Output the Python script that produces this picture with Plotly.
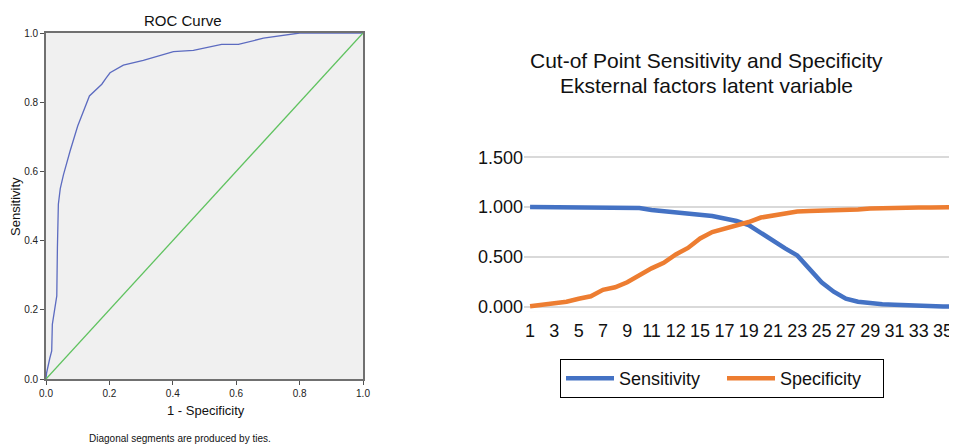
import plotly.graph_objects as go

# ---------------- data ----------------
# ROC curve (left panel)
roc_fpr = [0, 0.002, 0.012, 0.018, 0.02, 0.034, 0.036, 0.037, 0.039, 0.045, 0.055,
           0.076, 0.1, 0.137, 0.176, 0.19, 0.202, 0.244, 0.307, 0.402, 0.465,
           0.554, 0.607, 0.686, 0.77, 0.8, 1.0]
roc_tpr = [0, 0.018, 0.06, 0.081, 0.158, 0.24, 0.38, 0.477, 0.505, 0.55, 0.59,
           0.659, 0.731, 0.818, 0.852, 0.87, 0.885, 0.907, 0.921, 0.946, 0.95,
           0.967, 0.967, 0.985, 0.996, 1.0, 1.0]
ref_x = [0, 1]
ref_y = [0, 1]
roc_ticks = [0.0, 0.2, 0.4, 0.6, 0.8, 1.0]

# Cut-off points (right panel)
cut_points = ["1", "2", "3", "4", "5", "6", "7", "8", "9", "10", "11", "11.5",
              "12", "13", "15", "16", "17", "18", "19", "20", "21", "22", "23",
              "24", "25", "26", "27", "28", "29", "30", "31", "32", "33", "34",
              "35", "36"]
sensitivity = [1.0, 1.0, 1.0, 1.0, 1.0, 1.0, 1.0, 1.0, 1.0, 0.99, 0.97, 0.96,
               0.95, 0.935, 0.92, 0.91, 0.885, 0.86, 0.82, 0.74, 0.67, 0.586,
               0.515, 0.385, 0.245, 0.151, 0.08, 0.05, 0.034, 0.024, 0.02, 0.013,
               0.013, 0.01, 0.003, 0.0]
specificity = [0.005, 0.018, 0.03, 0.05, 0.08, 0.105, 0.17, 0.195, 0.245, 0.32,
               0.385, 0.44, 0.525, 0.59, 0.685, 0.75, 0.785, 0.81, 0.85, 0.895,
               0.915, 0.945, 0.955, 0.96, 0.962, 0.975, 0.975, 0.977, 0.985, 0.99,
               0.992, 0.995, 0.995, 0.997, 0.998, 0.998]
y_ticks = [0.0, 0.5, 1.0, 1.5]

# page body has an 8px margin, so the figure is sized to the visible window
OFF = 8
W, H = 957 - OFF, 445 - OFF
FONT = "Liberation Sans, Arial, Helvetica, sans-serif"

def px(x):
    return (x - OFF) / W

def py(y):
    return 1 - (y - OFF) / H

fig = go.Figure()

# ----- left: ROC -----
fig.add_trace(go.Scatter(x=roc_fpr, y=roc_tpr, mode="lines",
                         line=dict(color="#5c6bc0", width=1.3),
                         xaxis="x", yaxis="y", showlegend=False, hoverinfo="skip"))
fig.add_trace(go.Scatter(x=ref_x, y=ref_y, mode="lines",
                         line=dict(color="#5fc25f", width=1.3),
                         xaxis="x", yaxis="y", showlegend=False, hoverinfo="skip"))

# ----- right: sensitivity / specificity -----
fig.add_trace(go.Scatter(x=cut_points, y=sensitivity, mode="lines", name="Sensitivity",
                         line=dict(color="#4472C4", width=4.5),
                         xaxis="x2", yaxis="y2"))
fig.add_trace(go.Scatter(x=cut_points, y=specificity, mode="lines", name="Specificity",
                         line=dict(color="#ED7D31", width=4.5),
                         xaxis="x2", yaxis="y2"))

axis_roc = dict(range=[0, 1], tickmode="array", tickvals=roc_ticks,
                ticktext=["%.1f" % v for v in roc_ticks],
                showgrid=False, zeroline=False, showline=True, mirror=True,
                linecolor="#707070", linewidth=1.6, ticks="outside", ticklen=4,
                tickcolor="#505050", tickwidth=1, automargin=False,
                tickfont=dict(family=FONT, size=10, color="#222222"))

fig.update_layout(
    width=W, height=H,
    margin=dict(l=0, r=0, t=0, b=0, autoexpand=False),
    paper_bgcolor="white",
    plot_bgcolor="#f0f0f0",
    font=dict(family=FONT),
    xaxis=dict(axis_roc, domain=[px(46), px(363)], anchor="y"),
    yaxis=dict(axis_roc, domain=[py(379), py(33)], anchor="x"),
    xaxis2=dict(domain=[px(524), 1.0], anchor="y2", type="category",
                range=[-0.5, 35.15], tickmode="array",
                tickvals=cut_points[::2], ticktext=cut_points[::2],
                tickangle=0, showgrid=False, zeroline=False, showline=False,
                ticks="", automargin=False, ticklabelstandoff=6,
                tickfont=dict(family=FONT, size=18, color="#111111")),
    yaxis2=dict(domain=[py(311.7), py(152.3)], anchor="x2", range=[-0.05, 1.55],
                tickmode="array", tickvals=y_ticks,
                ticktext=["%.3f" % v for v in y_ticks],
                showgrid=True, gridcolor="#d9d9d9", gridwidth=1.5,
                zeroline=False, showline=False, ticks="", automargin=False,
                tickfont=dict(family=FONT, size=18, color="#111111")),
    legend=dict(orientation="h", x=px(722), y=py(378.5), xanchor="center",
                yanchor="middle", bordercolor="#000000", borderwidth=1,
                bgcolor="white", itemwidth=48, entrywidth=98,
                font=dict(family=FONT, size=18, color="#111111"),
                tracegroupgap=0),
)

# Right-panel plot area background must be white
fig.add_shape(type="rect", xref="paper", yref="paper",
              x0=px(524), x1=1.0, y0=py(311.7), y1=py(152.3),
              fillcolor="white", line=dict(width=0), layer="below")

annotations = [
    dict(text="ROC Curve", x=px(183), y=py(20), size=15),
    dict(text="1 - Specificity", x=px(206), y=py(410), size=13),
    dict(text="Diagonal segments are produced by ties.", x=px(180), y=py(438), size=10),
    dict(text="Cut-of Point Sensitivity and Specificity", x=px(706), y=py(60), size=21),
    dict(text="Eksternal factors latent variable", x=px(706), y=py(85), size=21),
]
for a in annotations:
    fig.add_annotation(text=a["text"], x=a["x"], y=a["y"], xref="paper", yref="paper",
                       xanchor="center", yanchor="middle", showarrow=False,
                       font=dict(family=FONT, size=a["size"], color="#111111"))
fig.add_annotation(text="Sensitivity", x=px(15), y=py(207), xref="paper", yref="paper",
                   xanchor="center", yanchor="middle", showarrow=False, textangle=-90,
                   borderpad=0,
                   font=dict(family=FONT, size=13, color="#111111"))

fig.write_html("out.html")
